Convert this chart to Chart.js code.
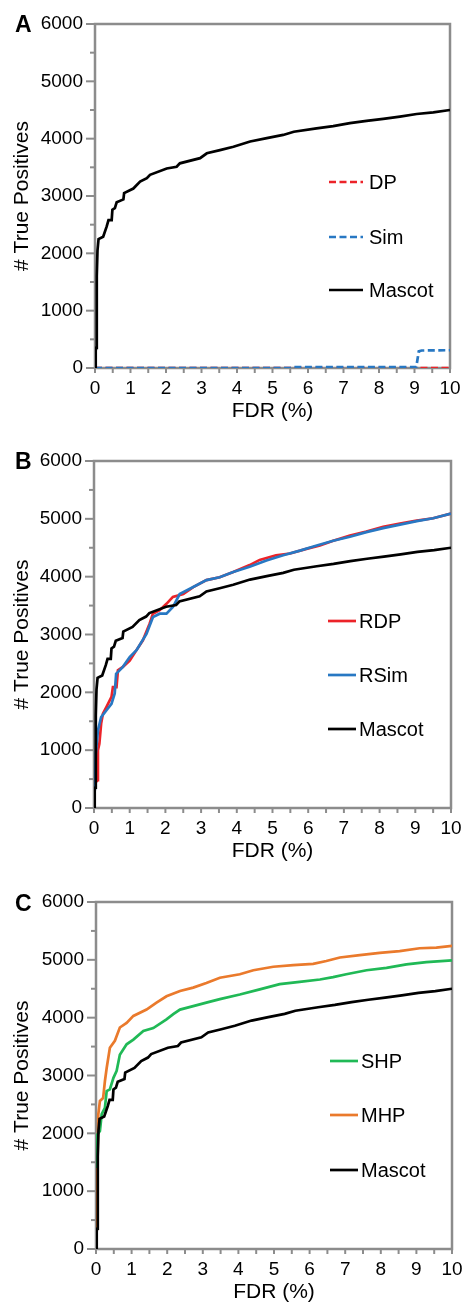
<!DOCTYPE html>
<html>
<head>
<meta charset="utf-8">
<script src="https://cdn.jsdelivr.net/npm/chart.js@4.4.1/dist/chart.umd.min.js"></script>
<style>
  body { margin: 0; background: #fff; overflow: hidden; }
  .panel { position: absolute; left: 0; width: 464px; height: 434px; }
</style>
</head>
<body>
<div class="panel" style="top:0px"><canvas id="chartA"></canvas></div>
<div class="panel" style="top:434px"><canvas id="chartB"></canvas></div>
<div class="panel" style="top:868px"><canvas id="chartC"></canvas></div>
<script>
// values (FDR in %, number of true positives)
var mascotFdr = [0, 0.02, 0.03, 0.05, 0.07, 0.1, 0.23, 0.33, 0.38, 0.47, 0.49, 0.56, 0.61, 0.8, 0.82, 1.08, 1.27, 1.46, 1.55, 2.02, 2.3, 2.39, 2.96, 3.15, 3.52, 3.9, 4.37, 4.84, 5.3, 5.6, 6.24, 6.71, 7.18, 7.65, 8.12, 8.59, 9.06, 9.53, 10];
var mascotTp  = [0, 300, 350, 1600, 2050, 2250, 2290, 2470, 2580, 2580, 2760, 2790, 2890, 2940, 3050, 3130, 3250, 3310, 3370, 3480, 3510, 3570, 3660, 3745, 3800, 3860, 3950, 4010, 4065, 4120, 4180, 4220, 4270, 4310, 4345, 4385, 4430, 4460, 4500];

var dpFdr  = [0, 10];
var dpTp   = [0, 0];
var simFdr = [0, 5.5, 5.6, 9.05, 9.12, 9.2, 10];
var simTp  = [0, 0, 15, 15, 290, 305, 310];

var rdpFdr = [0.07, 0.09, 0.11, 0.15, 0.2, 0.25, 0.35, 0.49, 0.53, 0.63, 0.67, 0.81, 1.0, 1.19, 1.37, 1.56, 1.65, 1.84, 2.03, 2.21, 2.5, 2.78, 3.15, 3.52, 3.9, 4.36, 4.64, 5.1, 5.49, 5.95, 6.33, 6.7, 7.17, 7.63, 8.1, 8.57, 9.04, 9.5, 10];
var rdpTp  = [450, 480, 1000, 1110, 1460, 1630, 1750, 1920, 2090, 2090, 2380, 2440, 2550, 2730, 2900, 3190, 3360, 3420, 3530, 3650, 3700, 3820, 3940, 3990, 4080, 4200, 4290, 4370, 4400, 4480, 4540, 4620, 4710, 4780, 4860, 4920, 4970, 5010, 5090];
var rsimFdr = [0.02, 0.05, 0.11, 0.2, 0.35, 0.49, 0.58, 0.62, 0.81, 1.0, 1.19, 1.47, 1.65, 1.84, 2.03, 2.21, 2.4, 2.78, 3.15, 3.52, 3.9, 4.36, 4.83, 5.3, 5.77, 6.24, 6.7, 7.17, 7.63, 8.1, 8.57, 9.04, 9.5, 10];
var rsimTp  = [300, 940, 1340, 1570, 1690, 1800, 1980, 2320, 2440, 2610, 2730, 3010, 3300, 3360, 3360, 3475, 3700, 3820, 3940, 3990, 4080, 4170, 4280, 4370, 4450, 4540, 4620, 4690, 4770, 4840, 4900, 4960, 5010, 5090];

var shpFdr = [0.01, 0.04, 0.11, 0.16, 0.25, 0.3, 0.39, 0.49, 0.58, 0.67, 0.86, 1.05, 1.33, 1.61, 1.98, 2.17, 2.36, 2.73, 3.1, 3.48, 4.04, 4.6, 5.16, 5.72, 6.29, 6.66, 7.03, 7.6, 8.16, 8.72, 9.28, 10];
var shpTp  = [1400, 1980, 2040, 2330, 2440, 2730, 2760, 2960, 3080, 3360, 3540, 3620, 3770, 3820, 3970, 4060, 4140, 4200, 4260, 4320, 4400, 4490, 4580, 4620, 4660, 4700, 4750, 4820, 4860, 4920, 4960, 4990];
var mhpFdr = [0.02, 0.04, 0.065, 0.11, 0.2, 0.25, 0.3, 0.39, 0.53, 0.67, 0.86, 1.05, 1.42, 1.7, 1.98, 2.36, 2.73, 3.1, 3.48, 4.04, 4.42, 4.98, 5.54, 6.1, 6.47, 6.85, 7.41, 7.97, 8.53, 9.09, 9.56, 10];
var mhpTp  = [310, 1400, 2330, 2560, 2610, 2900, 3130, 3480, 3600, 3830, 3910, 4030, 4140, 4260, 4370, 4460, 4520, 4600, 4690, 4750, 4820, 4880, 4910, 4930, 4980, 5040, 5080, 5120, 5150, 5200, 5210, 5240];

var yTicks = [0, 1000, 2000, 3000, 4000, 5000, 6000];
var xTicks = [0, 1, 2, 3, 4, 5, 6, 7, 8, 9, 10];

var FONT = "'Liberation Sans', Arial, sans-serif";
var GREY = '#8c8c8c';

function pts(xs, ys) {
    var out = [];
    for (var i = 0; i < xs.length; i++) out.push({x: xs[i], y: ys[i]});
    return out;
}

function line(label, xs, ys, color, dash, order) {
    return {
        label: label,
        data: pts(xs, ys),
        borderColor: color,
        borderWidth: 2.7,
        borderDash: dash || [],
        pointRadius: 0,
        tension: 0,
        fill: false,
        order: order
    };
}

// frame, tick marks, legend and panel letter
var decor = {
    id: 'decor',
    beforeDatasetsDraw: function (chart) {
        var ctx = chart.ctx, a = chart.chartArea;
        var xs = chart.scales.x, ys = chart.scales.y;
        ctx.save();
        ctx.strokeStyle = GREY;
        ctx.lineWidth = 2;
        for (var v = 0; v <= 6000; v += 500) {
            var y = ys.getPixelForValue(v);
            var len = (v % 1000 === 0) ? 9 : 5;
            ctx.beginPath(); ctx.moveTo(a.left - len, y); ctx.lineTo(a.left, y); ctx.stroke();
        }
        for (var f = 0; f <= 10; f += 0.5) {
            var x = xs.getPixelForValue(f);
            ctx.beginPath(); ctx.moveTo(x, a.bottom); ctx.lineTo(x, a.bottom + 5); ctx.stroke();
        }
        ctx.lineWidth = 2.5;
        ctx.strokeRect(a.left, a.top, a.right - a.left, a.bottom - a.top);
        ctx.restore();
    },
    afterDraw: function (chart) {
        var ctx = chart.ctx, o = chart.options.plugins.decor;
        ctx.save();
        ctx.fillStyle = '#000';
        ctx.font = 'bold 23px ' + FONT;
        ctx.textBaseline = 'alphabetic';
        ctx.fillText(o.letter, 15, o.letterY);
        ctx.font = '20px ' + FONT;
        ctx.textBaseline = 'middle';
        var sets = chart.data.datasets;
        for (var i = 0; i < sets.length; i++) {
            var d = sets[i], y = o.legendY[i];
            ctx.strokeStyle = d.borderColor;
            ctx.lineWidth = 2.7;
            ctx.setLineDash(d.borderDash);
            ctx.beginPath(); ctx.moveTo(o.lineX[0], y); ctx.lineTo(o.lineX[1], y); ctx.stroke();
            ctx.setLineDash([]);
            ctx.fillText(d.label, o.textX, y + 1);
        }
        ctx.restore();
    }
};

function makePanel(id, datasets, box, legend) {
    // x title centre sits about 43px under the plot bottom
    var titlePad = 434 - (box.bottom + 43) - 12.6;
    new Chart(document.getElementById(id), {
        type: 'line',
        data: { datasets: datasets },
        plugins: [decor],
        options: {
            responsive: true,
            maintainAspectRatio: false,
            animation: false,
            layout: { padding: { top: box.top, right: 464 - box.right, left: 0, bottom: 0 } },
            plugins: {
                legend: { display: false },
                tooltip: { enabled: false },
                decor: legend
            },
            scales: {
                x: {
                    type: 'linear', min: 0, max: 10,
                    afterBuildTicks: function (s) { s.ticks = xTicks.map(function (v) { return {value: v}; }); },
                    ticks: { color: '#000', font: { family: FONT, size: 19 }, padding: 9, maxRotation: 0, autoSkip: false,
                             callback: function (v) { return String(v); } },
                    grid: { display: false, drawTicks: false },
                    border: { display: false },
                    title: { display: true, text: 'FDR (%)', color: '#000', font: { family: FONT, size: 21 }, padding: { top: 0, bottom: titlePad } },
                    afterFit: function (s) { s.height = 434 - box.bottom; s.paddingLeft = 0; s.paddingRight = 0; }
                },
                y: {
                    type: 'linear', min: 0, max: 6000,
                    afterBuildTicks: function (s) { s.ticks = yTicks.map(function (v) { return {value: v}; }); },
                    ticks: { color: '#000', font: { family: FONT, size: 19 }, padding: 12,
                             callback: function (v) { return String(v); } },
                    grid: { display: false, drawTicks: false },
                    border: { display: false },
                    title: { display: true, text: '# True Positives', color: '#000', font: { family: FONT, size: 21 }, padding: { top: 10 } },
                    afterFit: function (s) { s.width = box.left; s.paddingTop = 0; s.paddingBottom = 0; }
                }
            }
        }
    });
}

makePanel('chartA', [
    line('DP', dpFdr, dpTp, '#ec2329', [7, 3.5], 3),
    line('Sim', simFdr, simTp, '#2878c3', [7, 3.5], 2),
    line('Mascot', mascotFdr, mascotTp, '#000000', [], 1)
], { left: 95, right: 450, top: 24, bottom: 368 },
   { letter: 'A', letterY: 32, legendY: [182, 237, 290], lineX: [329, 363], textX: 369 });

makePanel('chartB', [
    line('RDP', rdpFdr, rdpTp, '#ec2329', [], 3),
    line('RSim', rsimFdr, rsimTp, '#2878c3', [], 2),
    line('Mascot', mascotFdr, mascotTp, '#000000', [], 1)
], { left: 94, right: 451, top: 27, bottom: 374 },
   { letter: 'B', letterY: 35, legendY: [187, 241, 295], lineX: [328, 356], textX: 359 });

makePanel('chartC', [
    line('SHP', shpFdr, shpTp, '#20b956', [], 2),
    line('MHP', mhpFdr, mhpTp, '#ea7a2c', [], 3),
    line('Mascot', mascotFdr, mascotTp, '#000000', [], 1)
], { left: 96, right: 452, top: 34, bottom: 381 },
   { letter: 'C', letterY: 43, legendY: [193, 247, 302], lineX: [330, 358], textX: 361 });
</script>
</body>
</html>
